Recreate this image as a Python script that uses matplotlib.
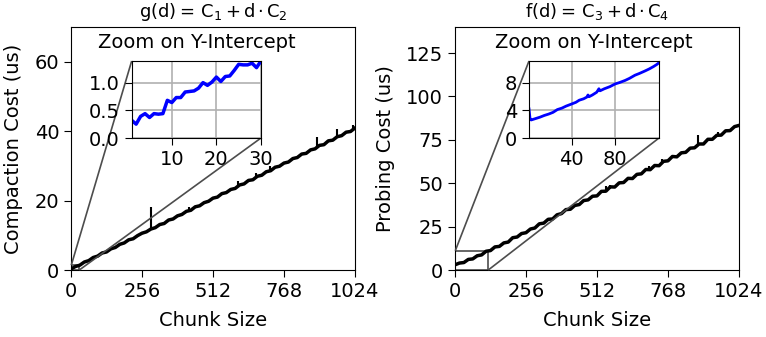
import numpy as np
import matplotlib
matplotlib.use('Agg')
import matplotlib.pyplot as plt
from mpl_toolkits.axes_grid1.inset_locator import mark_inset

plt.rcParams['font.size'] = 14
plt.rcParams['xtick.major.size'] = 5
plt.rcParams['ytick.major.size'] = 5

# chunk sizes sampled every 16
chunk = list(range(0, 1025, 16))

compaction = [0.3, 1.0, 1.4, 2.3, 2.7, 3.6, 4.0, 4.9, 5.2, 6.1, 6.5, 7.4, 7.8, 8.7, 9.0, 9.9,
              10.6, 11.0, 11.8, 12.2, 13.1, 13.4, 14.4, 14.7, 15.6, 16.0, 16.9, 17.2, 18.2, 18.5,
              19.4, 19.8, 20.7, 21.0, 22.0, 22.3, 23.2, 23.5, 24.5, 24.8, 25.8, 26.0, 27.0, 27.3,
              28.3, 28.6, 29.6, 29.9, 30.8, 31.1, 32.1, 32.4, 33.4, 33.6, 34.6, 34.9, 35.9, 36.1,
              37.2, 37.4, 38.4, 38.7, 39.7, 39.9, 40.9]

probing = [3.0, 3.6, 4.6, 5.6, 6.8, 7.9, 9.2, 10.4, 11.5, 12.8, 14.0, 15.3, 16.6, 18.0, 19.3, 20.6,
           22.0, 23.3, 24.6, 26.0, 27.3, 28.7, 30.0, 31.4, 32.8, 34.1, 35.5, 36.8, 38.1, 39.4,
           40.7, 42.0, 43.3, 44.6, 45.8, 47.1, 48.3, 49.6, 50.8, 52.1, 53.3, 54.6, 55.8, 57.1,
           58.3, 59.6, 60.8, 62.1, 63.3, 64.6, 65.8, 67.0, 68.3, 69.5, 70.8, 72.0, 73.3, 74.5,
           75.8, 77.0, 78.3, 79.5, 80.8, 82.0, 83.3]

# jitter
probing_noise = [0.0, 0.4, -0.3, 0.5, -0.4, 0.3, -0.5, 0.4, -0.3, 0.5, -0.4, 0.3, -0.5, 0.6, -0.3, 0.4,
                 -0.5, 0.3, -0.4, 0.6, -0.3, 0.5, -0.6, 0.4, -0.3, 0.7, -0.5, 0.4, -0.4, 0.6,
                 -0.3, 0.5, -0.6, 0.7, -0.4, 0.8, -0.5, 0.6, -0.4, 0.7, -0.6, 0.5, -0.4, 0.8,
                 -0.5, 0.6, -0.7, 0.5, -0.4, 0.8, -0.6, 0.5, -0.5, 0.7, -0.4, 0.6, -0.7, 0.8,
                 -0.5, 0.6, -0.6, 0.7, -0.5, 0.6, 0.0]

# spikes (x, low, high)
comp_spike_x = [288, 425, 603, 667, 717, 887, 958, 1018]
comp_spike_lo = [11.7, 16.8, 24.2, 26.5, 28.5, 35.4, 38.2, 40.5]
comp_spike_hi = [18.2, 18.1, 25.5, 27.9, 30.0, 38.4, 40.5, 41.8]

prob_spike_x = [545, 560, 700, 745, 877, 950]
prob_spike_lo = [45.5, 46.8, 57.8, 61.6, 72.0, 77.0]
prob_spike_hi = [48.3, 49.0, 60.0, 63.8, 77.8, 79.6]

# zoomed-in data
zoom_c_x = list(range(1, 31))
zoom_c_y = [0.32, 0.25, 0.39, 0.44, 0.37, 0.44, 0.43, 0.44, 0.68, 0.64, 0.73, 0.73, 0.83, 0.84, 0.85,
            0.9, 1.0, 0.95, 1.01, 1.1, 1.02, 1.11, 1.12, 1.22, 1.33, 1.32, 1.32, 1.35, 1.27, 1.39]

zoom_p_x = [1, 2, 3, 7, 11, 15, 19, 23, 27, 31, 35, 40, 44, 47, 51, 54, 55, 56, 59, 63, 65, 66,
            70, 75, 80, 84, 89, 93, 98, 102, 107, 111, 115, 118, 120]
zoom_p_y = [4.2, 2.7, 2.6, 2.8, 3.0, 3.25, 3.45, 3.7, 4.1, 4.3, 4.6, 4.9, 5.15, 5.45, 5.65, 5.9,
            6.2, 5.95, 6.2, 6.6, 7.1, 6.8, 7.1, 7.4, 7.8, 8.0, 8.3, 8.6, 9.05, 9.3, 9.65, 9.95,
            10.3, 10.6, 10.85]

fig = plt.figure(figsize=(7.66, 3.37), dpi=100)

ax1 = fig.add_axes([0.0927, 0.1988, 0.3707, 0.7211])
ax2 = fig.add_axes([0.594, 0.1988, 0.3707, 0.7211])

ax1.plot(chunk, compaction, color='k', linewidth=2.5)
ax1.vlines(comp_spike_x, comp_spike_lo, comp_spike_hi, color='k', linewidth=1.5)
ax1.set_xlim(0, 1024)
ax1.set_ylim(0, 70)
ax1.set_xticks([0, 256, 512, 768, 1024])
ax1.set_yticks([0, 20, 40, 60])
ax1.set_xlabel('Chunk Size', labelpad=7)
ax1.set_ylabel('Compaction Cost (us)', labelpad=8)
ax1.set_title(r'$\mathrm{g(d){=}\,C_1\,{+}\,d\,{\cdot}\,C_2}$', fontsize=13, pad=7)

probing_y = np.array(probing) + np.array(probing_noise)
ax2.plot(chunk, probing_y, color='k', linewidth=2.5)
ax2.vlines(prob_spike_x, prob_spike_lo, prob_spike_hi, color='k', linewidth=1.5)
ax2.set_xlim(0, 1024)
ax2.set_ylim(0, 140)
ax2.set_xticks([0, 256, 512, 768, 1024])
ax2.set_yticks([0, 25, 50, 75, 100, 125])
ax2.set_xlabel('Chunk Size', labelpad=7)
ax2.set_ylabel('Probing Cost (us)', labelpad=8)
ax2.set_title(r'$\mathrm{f(d){=}\,C_3\,{+}\,d\,{\cdot}\,C_4}$', fontsize=13, pad=7)

# insets
in1 = fig.add_axes([0.1719, 0.5905, 0.1688, 0.2285])
in1.plot(zoom_c_x, zoom_c_y, color='blue', linewidth=2.5)
in1.set_xlim(1, 30)
in1.set_ylim(0, 1.39)
in1.set_xticks([10, 20, 30])
in1.set_yticks([0.0, 0.5, 1.0])
in1.grid(True, linewidth=1.2)
in1.set_title('Zoom on Y-Intercept', fontsize=14, pad=9)
mark_inset(ax1, in1, loc1=2, loc2=4, fc='none', ec='0.3', lw=1.2)

in2 = fig.add_axes([0.6906, 0.5905, 0.1697, 0.2285])
in2.plot(zoom_p_x, zoom_p_y, color='blue', linewidth=2)
in2.set_xlim(1, 120)
in2.set_ylim(0, 11.1)
in2.set_xticks([40, 80])
in2.set_yticks([0, 4, 8])
in2.grid(True, linewidth=1.2)
in2.set_title('Zoom on Y-Intercept', fontsize=14, pad=9)
mark_inset(ax2, in2, loc1=2, loc2=4, fc='none', ec='0.3', lw=1.2)

fig.savefig('out.png', dpi=100)
